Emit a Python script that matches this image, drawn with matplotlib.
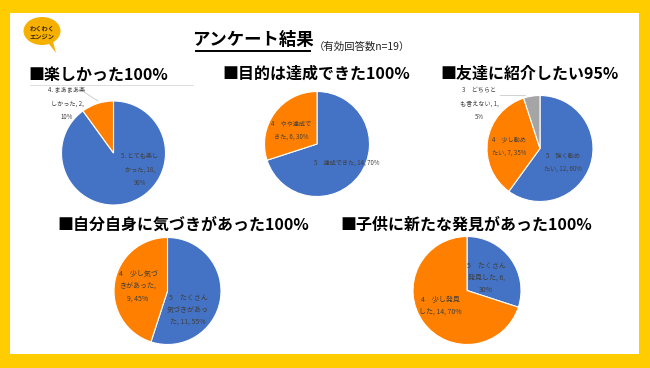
import matplotlib.pyplot as plt
from matplotlib.patches import Rectangle, Ellipse, Polygon

plt.rcParams['font.family'] = ['Noto Sans CJK JP', 'DejaVu Sans']

# data
titles = ['■楽しかった100%', '■目的は達成できた100%', '■友達に紹介したい95%',
          '■自分自身に気づきがあった100%', '■子供に新たな発見があった100%']
counts1 = [18, 2]
counts2 = [14, 6]
counts3 = [12, 7, 1]
counts4 = [11, 9]
counts5 = [6, 14]
labels1 = ['5. とても楽し\nかった, 18,\n90%', '4. まあまあ楽\nしかった, 2,\n10%']
labels2 = ['5　達成できた, 14, 70%', '4　やや達成で\nきた, 6, 30%']
labels3 = ['5　強く勧め\nたい, 12, 60%', '4　少し勧め\nたい, 7, 35%', '3　どちらと\nも言えない, 1,\n5%']
labels4 = ['5　たくさん\n気づきがあっ\nた, 11, 55%', '4　少し気づ\nきがあった,\n9, 45%']
labels5 = ['5　たくさん\n発見した, 6,\n30%', '4　少し発見\nした, 14, 70%']

BLUE = '#4472C4'
ORANGE = '#FF7F00'
GRAY = '#A5A5A5'
YELLOW = '#FFCC00'
H = 368


def Y(y):
    # pixel row -> data y
    return H - y


fig = plt.figure(figsize=(6.5, 3.68), dpi=100, facecolor=YELLOW)
ax = fig.add_axes([0, 0, 1, 1])

ax.add_patch(Rectangle((10, Y(354)), 629, 341, facecolor='white', edgecolor='none'))

# logo
ax.add_patch(Polygon([(46, Y(40)), (56, Y(53)), (52, Y(38))], closed=True, facecolor='#F5B000', edgecolor='none'))
ax.add_patch(Ellipse((42, Y(31)), 37, 28, facecolor='#F5B000', edgecolor='none'))
ax.text(42, Y(28), 'わくわく', fontsize=4.5, fontweight='bold', color='#3a2500', ha='center', va='center')
ax.text(42, Y(36), 'エンジン', fontsize=4.5, fontweight='bold', color='#3a2500', ha='center', va='center')

# main title
ax.text(253, Y(40), 'アンケート結果', fontsize=12.5, fontweight='bold', ha='center', va='center')
ax.plot([196, 310], [Y(51), Y(51)], color='black', lw=1.4)
ax.text(314, Y(47), '（有効回答数n=19）', fontsize=7.5, ha='left', va='center', color='#222222')

charts = [
    (counts1, [BLUE, ORANGE], (113.5, 153), 52, (28, 75)),
    (counts2, [BLUE, ORANGE], (317, 144), 52.5, (222, 74)),
    (counts3, [BLUE, ORANGE, GRAY], (540, 148.5), 53, (440, 74)),
    (counts4, [BLUE, ORANGE], (167.5, 291), 53.5, (57, 225)),
    (counts5, [BLUE, ORANGE], (467, 290.5), 54, (340, 225)),
]
for (vals, cols, (cx, cy), r, (tx, ty)), title in zip(charts, titles):
    ax.pie(vals, colors=cols, startangle=90, counterclock=False, center=(cx, Y(cy)),
           radius=r, wedgeprops=dict(edgecolor='white', linewidth=0.8), frame=True)
    ax.text(tx, Y(ty), title, fontsize=11.5, fontweight='bold', ha='left', va='center')

lab = dict(fontsize=4.4, color='#404040', ha='center', va='center', linespacing=1.9)
# chart 1
ax.plot([30, 193], [Y(85), Y(85)], color='#D9D9D9', lw=0.6)
ax.plot([84, 98], [Y(92), Y(101)], color='#BFBFBF', lw=0.5)
ax.text(140, Y(170), labels1[0], **lab)
ax.text(67, Y(104), labels1[1], **lab)
# chart 2
ax.text(347, Y(163), labels2[0], **lab)
ax.text(291, Y(130), labels2[1], **lab)
# chart 3
ax.plot([500, 525], [Y(95), Y(95)], color='#BFBFBF', lw=0.5)
ax.text(563, Y(162), labels3[0], **lab)
ax.text(509, Y(146), labels3[1], **lab)
ax.text(479, Y(104), labels3[2], **lab)
# chart 4
lab4 = dict(lab, fontsize=5, linespacing=1.7)
ax.text(188, Y(310), labels4[0], **lab4)
ax.text(138, Y(286), labels4[1], **lab4)
# chart 5
ax.text(486, Y(278), labels5[0], **lab4)
ax.text(440, Y(306), labels5[1], **lab4)

ax.set_xlim(0, 650)
ax.set_ylim(0, H)
ax.set_aspect('auto')
ax.axis('off')

fig.savefig('out.png', dpi=100, facecolor=YELLOW)
